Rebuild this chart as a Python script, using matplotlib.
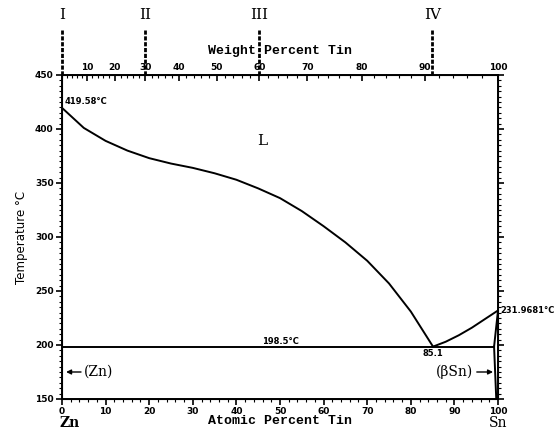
import matplotlib
matplotlib.use("Agg")
import matplotlib.pyplot as plt
import numpy as np

# Liquidus (atomic % Sn, °C)
liq_left_x = [0, 5, 10, 15, 20, 25, 30, 35, 40, 45, 50, 55, 60, 65, 70, 75, 80, 85.1]
liq_left_t = [419.58, 401, 389, 380, 373, 368, 364, 359, 353, 345, 336, 324, 310, 295, 278, 257, 231, 198.5]
liq_right_x = [85.1, 88, 91, 94, 97, 100]
liq_right_t = [198.5, 203, 209, 216, 224, 231.9681]
sn_solidus_x = [100, 99.1]
sn_solidus_t = [231.9681, 198.5]
sn_solvus_x = [99.1, 99.6]
sn_solvus_t = [198.5, 150]
eut_x = [0, 99.1]
eut_t = [198.5, 198.5]

wt_ticks = [10, 20, 30, 40, 50, 60, 70, 80, 90, 100]
marks_wt = [0, 30, 60, 91.1]
marks_lbl = ["I", "II", "III", "IV"]

M_ZN, M_SN = 65.38, 118.71
def wt_to_at(w):
    w = np.asarray(w, dtype=float)
    a = w / M_SN
    b = (100 - w) / M_ZN
    return 100 * a / (a + b)

fig = plt.figure(figsize=(5.55, 4.30), dpi=100)
ax = fig.add_axes([0.1117, 0.0721, 0.7856, 0.7535])
lw = 1.4
ax.plot(liq_left_x, liq_left_t, color="black", lw=lw)
ax.plot(liq_right_x, liq_right_t, color="black", lw=lw)
ax.plot(sn_solidus_x, sn_solidus_t, color="black", lw=lw)
ax.plot(sn_solvus_x, sn_solvus_t, color="black", lw=lw)
ax.plot(eut_x, eut_t, color="black", lw=lw)

ax.set_xlim(0, 100)
ax.set_ylim(150, 450)
ax.set_xticks(np.arange(0, 101, 10))
ax.set_xticks(np.arange(0, 101, 2), minor=True)
ax.set_yticks(np.arange(150, 451, 50))
ax.set_yticks(np.arange(150, 451, 5), minor=True)
ax.tick_params(axis="both", which="major", direction="out", length=4, width=1.2,
               labelsize=6.5, pad=2)
ax.tick_params(axis="both", which="minor", direction="out", length=2, width=0.8)
ax.tick_params(axis="y", which="both", right=True)
for lab in ax.get_xticklabels() + ax.get_yticklabels():
    lab.set_fontweight("bold")
for s in ax.spines.values():
    s.set_linewidth(1.4)

mono = "Liberation Mono"
fig.text(280 / 555, 1 - 421 / 430, "Atomic Percent Tin", family=mono, fontweight="bold",
         fontsize=9.5, ha="center", va="center")
fig.text(22 / 555, 1 - 237 / 430, "Temperature °C", family="DejaVu Sans", fontsize=8.5,
         rotation=90, ha="center", va="center")

# top axis: weight percent
top = ax.twiny()
top.set_xlim(0, 100)
top.set_xticks(wt_to_at(wt_ticks))
top.set_xticklabels([str(t) for t in wt_ticks])
top.set_xticks(wt_to_at(np.arange(0, 101, 2)), minor=True)
top.tick_params(axis="x", which="major", direction="in", length=4, width=1.2, labelsize=6.5, pad=2)
top.tick_params(axis="x", which="minor", direction="in", length=2, width=0.8)
for lab in top.get_xticklabels():
    lab.set_fontweight("bold")
fig.text(280 / 555, 1 - 51 / 430, "Weight Percent Tin", family=mono, fontweight="bold",
         fontsize=9.5, ha="center", va="center")

# marks above top axis
for w, l in zip(marks_wt, marks_lbl):
    xa = float(wt_to_at(w))
    ax.plot([xa, xa], [1.0, 1.14], transform=ax.get_xaxis_transform(), color="black",
            lw=2.0, ls=(0, (1.5, 0.6)), clip_on=False)
    ax.text(xa, 1.185, l, transform=ax.get_xaxis_transform(), ha="center", va="center",
            family="DejaVu Serif", fontsize=11, fontweight="light")

# annotations
ax.text(0.6, 421, "419.58°C", fontsize=6, fontweight="bold", ha="left", va="bottom")
ax.text(46, 389, "L", family="DejaVu Serif", fontsize=11, ha="center", va="center")
ax.text(50, 199, "198.5°C", fontsize=6, fontweight="bold", ha="center", va="bottom")
ax.text(85.1, 196, "85.1", fontsize=6, fontweight="bold", ha="center", va="top")
ax.text(100.5, 232, "231.9681°C", fontsize=6, fontweight="bold", ha="left", va="center",
        clip_on=False)
ax.annotate("", xy=(0.3, 175), xytext=(5, 175),
            arrowprops=dict(arrowstyle="-|>", color="black", lw=1.0, mutation_scale=7))
ax.text(5, 175, "(Zn)", family="DejaVu Serif", fontsize=10, ha="left", va="center")
ax.annotate("", xy=(99.5, 175), xytext=(94.5, 175),
            arrowprops=dict(arrowstyle="-|>", color="black", lw=1.0, mutation_scale=7))
ax.text(94.3, 175, "(βSn)", family="DejaVu Serif", fontsize=10, ha="right", va="center")

fig.text(70 / 555, 1 - 423 / 430, "Zn", family="DejaVu Serif", fontsize=10, fontweight="bold",
         ha="center", va="center")
fig.text(498 / 555, 1 - 423 / 430, "Sn", family="DejaVu Serif", fontsize=10,
         ha="center", va="center")

fig.savefig("out.png", dpi=100)
